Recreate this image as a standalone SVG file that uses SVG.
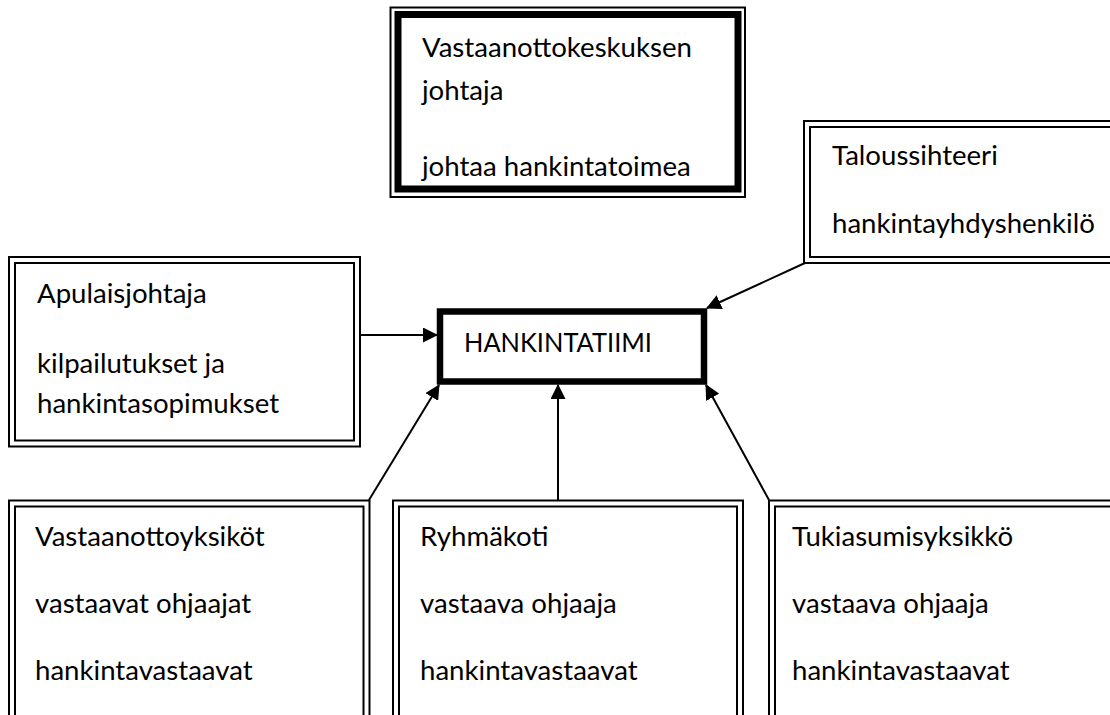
<svg xmlns="http://www.w3.org/2000/svg" width="1110" height="715" viewBox="0 0 1110 715">
<style>
text{font-family:Lato,"Open Sans","Liberation Sans",sans-serif;font-size:27.6px;fill:#000}
.thin{fill:none;stroke:#000;stroke-width:2}
.thick{fill:none;stroke:#000;stroke-width:7}
.bold{fill:none;stroke:#000;stroke-width:6.5}
.conn{fill:none;stroke:#000;stroke-width:2}
</style>
<defs>
<marker id="arr" markerUnits="userSpaceOnUse" markerWidth="15" markerHeight="15" viewBox="0 0 15 15" refX="14" refY="7.5" orient="auto">
<path d="M0,0 L15,7.5 L0,15 Z" fill="#000"/>
</marker>
</defs>
<rect width="1110" height="715" fill="#fff"/>
<g id="connectors">
<line class="conn" x1="360" y1="335" x2="437" y2="335" marker-end="url(#arr)"/>
<line class="conn" x1="805" y1="263" x2="707" y2="308" marker-end="url(#arr)"/>
<line class="conn" x1="369" y1="500" x2="439" y2="385" marker-end="url(#arr)"/>
<line class="conn" x1="558" y1="500" x2="558" y2="385" marker-end="url(#arr)"/>
<line class="conn" x1="769" y1="500" x2="706" y2="385" marker-end="url(#arr)"/>
</g>
<g id="johtaja">
<rect class="thin" x="390.5" y="7.5" width="354.5" height="189.5"/>
<rect class="thick" x="398" y="14.5" width="340" height="174.5"/>
<text x="422" y="57">Vastaanottokeskuksen</text>
<text x="422" y="100">johtaja</text>
<text x="422" y="176">johtaa hankintatoimea</text>
</g>
<g id="taloussihteeri">
<rect class="thin" x="804" y="121" width="320" height="142"/>
<rect class="thin" x="810" y="127" width="320" height="130"/>
<text x="832" y="165">Taloussihteeri</text>
<text x="832" y="233">hankintayhdyshenkilö</text>
</g>
<g id="apulaisjohtaja">
<rect class="thin" x="9" y="257" width="351" height="189.5"/>
<rect class="thin" x="15" y="263" width="339" height="177.5"/>
<text x="37" y="303">Apulaisjohtaja</text>
<text x="37" y="373">kilpailutukset ja</text>
<text x="37" y="413">hankintasopimukset</text>
</g>
<g id="hankintatiimi">
<rect class="bold" x="440" y="311.5" width="264" height="70"/>
<text x="464" y="352" textLength="188" lengthAdjust="spacingAndGlyphs">HANKINTATIIMI</text>
</g>
<g id="vastaanottoyksikot">
<rect class="thin" x="9" y="500.5" width="360.5" height="230"/>
<rect class="thin" x="15" y="506.5" width="348.5" height="230"/>
<text x="35" y="546">Vastaanottoyksiköt</text>
<text x="35" y="613">vastaavat ohjaajat</text>
<text x="35" y="680">hankintavastaavat</text>
</g>
<g id="ryhmakoti">
<rect class="thin" x="393" y="500.5" width="350" height="230"/>
<rect class="thin" x="399" y="506.5" width="338" height="230"/>
<text x="420" y="546">Ryhmäkoti</text>
<text x="420" y="613">vastaava ohjaaja</text>
<text x="420" y="680">hankintavastaavat</text>
</g>
<g id="tukiasumisyksikko">
<rect class="thin" x="769" y="500.5" width="360" height="230"/>
<rect class="thin" x="775" y="506.5" width="360" height="230"/>
<text x="792" y="546">Tukiasumisyksikkö</text>
<text x="792" y="613">vastaava ohjaaja</text>
<text x="792" y="680">hankintavastaavat</text>
</g>
</svg>
